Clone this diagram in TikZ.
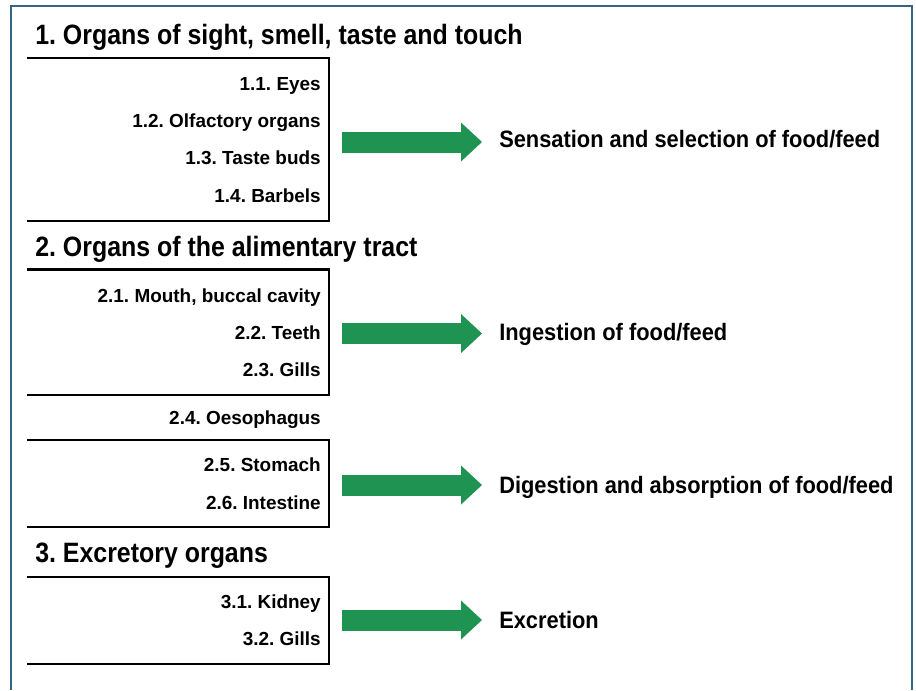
\documentclass[tikz,border=0pt]{standalone}
\usepackage{fontspec}
\setmainfont{Liberation Sans}
\newfontfamily\headfont[FakeStretch=0.89]{Liberation Sans}
\newfontfamily\itemfont[FakeStretch=1.0]{Liberation Sans}
\newfontfamily\funcfont[FakeStretch=0.92]{Liberation Sans}
\usetikzlibrary{arrows.meta}
\definecolor{lvse}{RGB}{31,148,82}
\definecolor{kuang}{RGB}{52,101,133}
\frenchspacing
\tikzset{
    head/.style={anchor=base west, inner sep=0pt, font=\headfont\fontsize{21}{24}\selectfont\bfseries},
    item/.style={anchor=base east, inner sep=0pt, font=\itemfont\fontsize{14.2}{16}\selectfont\bfseries},
    func/.style={anchor=base west, inner sep=0pt, font=\funcfont\fontsize{17.8}{20}\selectfont\bfseries},
    bracket/.style={line width=2.2pt},
    fatarrow/.style={lvse, line width=15.75pt, shorten >=12.75pt,
        -{Triangle[length=15.75pt, width=29.25pt, line width=0pt]}},
}
\begin{document}
\begin{tikzpicture}[x=0.75pt, y=-0.75pt]
		\useasboundingbox (0,0) rectangle (916,690);
		\draw[kuang, line width=1.5pt] (11,690) -- (11,6) -- (912,6) -- (912,690);
		% Ueberschriften
		\node[head] (h1) at (35,44) {1.\ Organs of sight, smell, taste and touch};
		\node[head] (h2) at (35,256.5) {2.\ Organs of the alimentary tract};
		\node[head] (h3) at (35,562) {3.\ Excretory organs};
		\foreach \t/\b in {58/221, 269.5/395, 440/527, 577/664}{
			\draw[bracket] (27,\t) -- (329,\t) -- (329,\b) -- (27,\b);
		}
		\foreach \n/\y/\txt in {11/90.5/{1.1. Eyes}, 12/127.5/{1.2. Olfactory organs}, 13/164.5/{1.3. Taste buds}, 14/202.5/{1.4. Barbels},
			21/302.5/{2.1. Mouth, buccal cavity}, 22/339.5/{2.2. Teeth}, 23/376.5/{2.3. Gills}, 24/424.5/{2.4. Oesophagus},
			25/471.5/{2.5. Stomach}, 26/509.5/{2.6. Intestine}, 31/608.5/{3.1. Kidney}, 32/645.5/{3.2. Gills}}{
			\node[item] (i\n) at (321,\y) {\txt};
		}
		% Funktionen
		\node[func] (f1) at (499,147) {Sensation and selection of food/feed};
		\node[func] (f2) at (499,340.7) {Ingestion of food/feed};
		\node[func] (f3) at (499,493) {Digestion and absorption of food/feed};
		\node[func] (f4) at (499,628.5) {Excretion};
		\foreach \n/\y in {1/142, 2/333.5, 3/485, 4/620}{
			\coordinate (a\n) at (342,\y);
			\draw[fatarrow] (a\n) -- (a\n -| f\n.west);
		}
	\end{tikzpicture}
\end{document}
